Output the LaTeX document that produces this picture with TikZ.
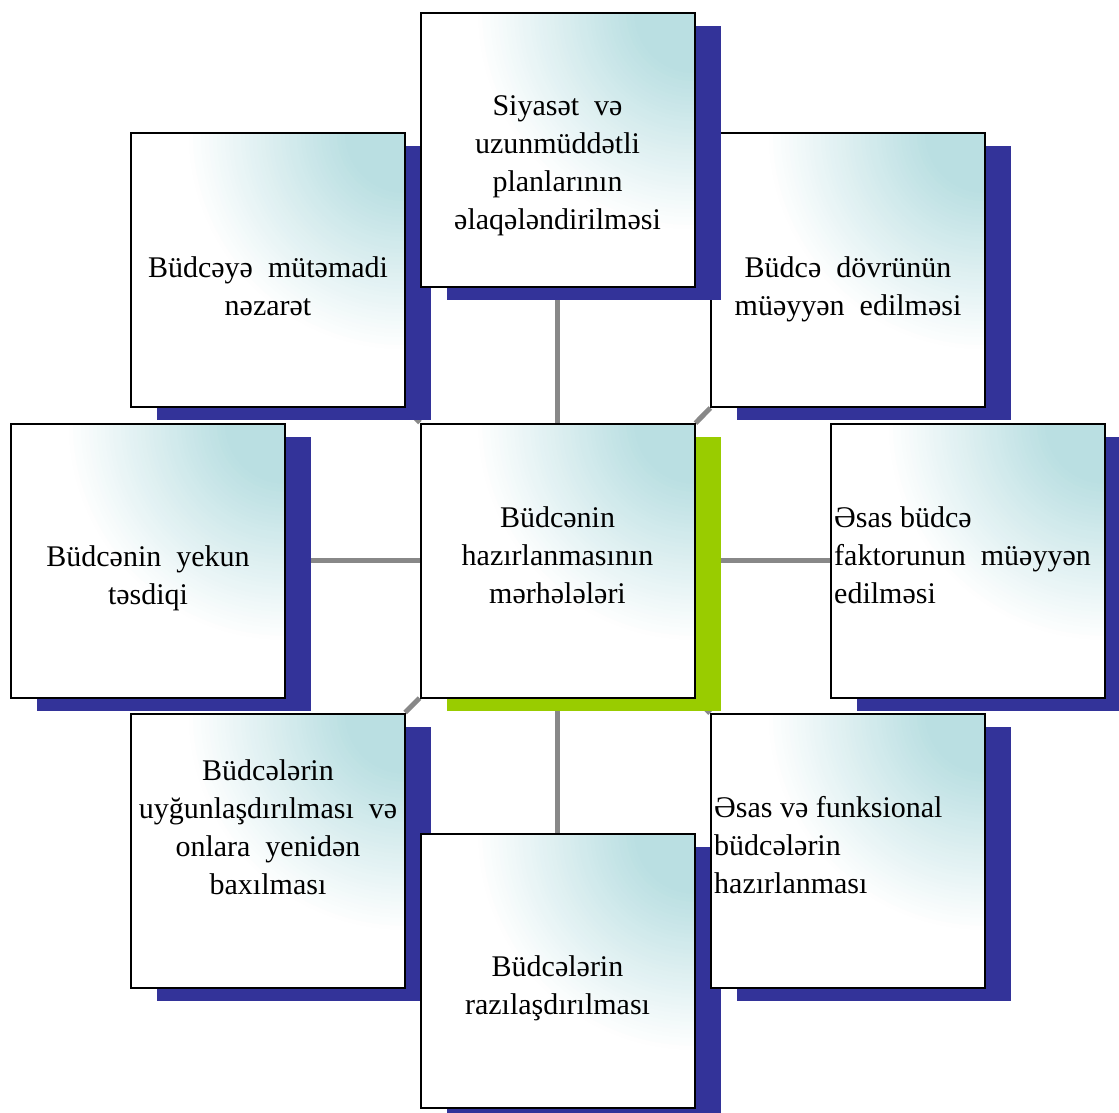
\documentclass[tikz,border=0pt]{standalone}
\usepackage{fontspec}
\setmainfont{Liberation Serif}
\usetikzlibrary{shadows}
\definecolor{shadowblue}{RGB}{51,51,153}
\definecolor{shadowgreen}{RGB}{153,204,0}
\definecolor{boxteal}{RGB}{186,223,226}
\definecolor{conngray}{RGB}{136,136,136}
\pgfdeclarelayer{bg}
\pgfsetlayers{bg,main}
\begin{document}
\begin{tikzpicture}[x=1pt,y=-1pt,
  box/.style={rectangle, draw=black, line width=2pt, fill=white,
    minimum width=274pt, minimum height=274pt, inner sep=0pt,
    path picture={\foreach \k in {0,...,40}{%
        \pgfmathtruncatemacro\pc{100*\k/40}%
        \fill[boxteal!\pc!white] (path picture bounding box.north east)
          circle [radius={220pt-4pt*\k}];}},
    general shadow={fill=#1, shadow xshift=26pt, shadow yshift=-13pt}},
  box/.default=shadowblue,
  txt/.style={font=\fontsize{30}{38}\selectfont, align=center, inner sep=0pt},
  ltxt/.style={txt, align=left, anchor=west},
  conn/.style={draw=conngray, line width=5pt}]
\useasboundingbox (0,0) rectangle (1119,1113);
\clip (0,0) rectangle (1119,1113);
% top row
\node[box] (TL) at (268,270) {};
\node[txt] (TLt) at (268,288.5) {\strut Büdcəyə\ \ mütəmadi\\\strut nəzarət};
\node[box] (TR) at (848,270) {};
\node[txt] (TRt) at (848,288.5) {\strut Büdcə\ \ dövrünün\\\strut müəyyən\ \ edilməsi};
\node[box] (T) at (557.5,150) {};
\node[txt] (Tt) at (557.5,165) {\strut Siyasət\ \ və\\\strut uzunmüddətli\\\strut planlarının\\\strut əlaqələndirilməsi};
% middle row
\node[box] (L) at (148,560.5) {};
\node[txt] (Lt) at (148,577.5) {\strut Büdcənin\ \ yekun\\\strut təsdiqi};
\node[box=shadowgreen] (C) at (557.5,560.5) {};
\node[txt] (Ct) at (557.5,558) {\strut Büdcənin\\\strut hazırlanmasının\\\strut mərhələləri};
\node[box] (R) at (968,560.5) {};
\node[ltxt] (Rt) at (834,558) {\strut Əsas büdcə\\\strut faktorunun\ \ müəyyən\\\strut edilməsi};
% bottom row
\node[box] (BL) at (268,850.5) {};
\node[txt] (BLt) at (268,830) {\strut Büdcələrin\\\strut uyğunlaşdırılması\ \ və\\\strut onlara\ \ yenidən\\\strut baxılması};
\node[box] (B) at (557.5,970.5) {};
\node[txt] (Bt) at (557.5,987.5) {\strut Büdcələrin\\\strut razılaşdırılması};
\node[box] (BR) at (848,850.5) {};
\node[ltxt] (BRt) at (714,848) {\strut Əsas və funksional\\\strut büdcələrin\\\strut hazırlanması};
% connectors
\begin{pgfonlayer}{bg}
\draw[conn] (C) -- (T);
\draw[conn] (C) -- (TR);
\draw[conn] (C) -- (R);
\draw[conn] (C) -- (BR);
\draw[conn] (C) -- (B);
\draw[conn] (C) -- (BL);
\draw[conn] (C) -- (L);
\draw[conn] (C) -- (TL);
\end{pgfonlayer}
\end{tikzpicture}
\end{document}
